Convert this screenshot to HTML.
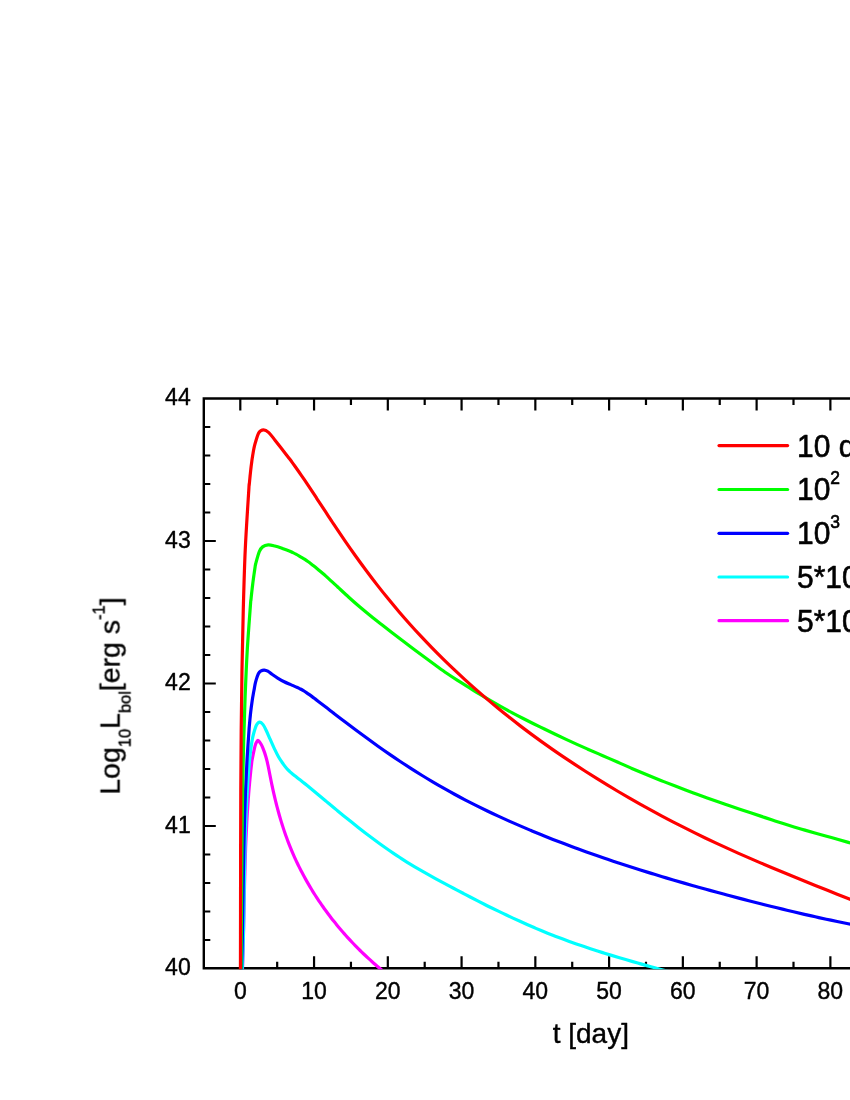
<!DOCTYPE html>
<html><head><meta charset="utf-8"><title>chart</title>
<style>
html,body{margin:0;padding:0;background:#fff;}
body{width:850px;height:1100px;position:relative;overflow:hidden;font-family:"Liberation Sans",sans-serif;}
</style></head><body>
<svg width="850" height="1100" viewBox="0 0 850 1100" style="position:absolute;left:0;top:0">
<defs><clipPath id="cp"><rect x="203.80" y="397.30" width="700" height="572.00"/></clipPath></defs>
<path d="M900 398.50 H203.80 V968.20 H900" stroke="#000" stroke-width="2.4" fill="none"/>
<path d="M240.30 398.50 v12.00 M240.30 968.20 v-12.00 M277.18 398.50 v6.50 M277.18 968.20 v-6.50 M314.06 398.50 v12.00 M314.06 968.20 v-12.00 M350.94 398.50 v6.50 M350.94 968.20 v-6.50 M387.82 398.50 v12.00 M387.82 968.20 v-12.00 M424.70 398.50 v6.50 M424.70 968.20 v-6.50 M461.58 398.50 v12.00 M461.58 968.20 v-12.00 M498.46 398.50 v6.50 M498.46 968.20 v-6.50 M535.34 398.50 v12.00 M535.34 968.20 v-12.00 M572.22 398.50 v6.50 M572.22 968.20 v-6.50 M609.10 398.50 v12.00 M609.10 968.20 v-12.00 M645.98 398.50 v6.50 M645.98 968.20 v-6.50 M682.86 398.50 v12.00 M682.86 968.20 v-12.00 M719.74 398.50 v6.50 M719.74 968.20 v-6.50 M756.62 398.50 v12.00 M756.62 968.20 v-12.00 M793.50 398.50 v6.50 M793.50 968.20 v-6.50 M830.38 398.50 v12.00 M830.38 968.20 v-12.00 M867.26 398.50 v6.50 M867.26 968.20 v-6.50 M904.14 398.50 v12.00 M904.14 968.20 v-12.00 M203.80 940.00 h6.50 M203.80 911.50 h6.50 M203.80 883.00 h6.50 M203.80 854.50 h6.50 M203.80 826.00 h12.00 M203.80 797.50 h6.50 M203.80 769.00 h6.50 M203.80 740.50 h6.50 M203.80 712.00 h6.50 M203.80 683.50 h12.00 M203.80 655.00 h6.50 M203.80 626.50 h6.50 M203.80 598.00 h6.50 M203.80 569.50 h6.50 M203.80 541.00 h12.00 M203.80 512.50 h6.50 M203.80 484.00 h6.50 M203.80 455.50 h6.50 M203.80 427.00 h6.50" stroke="#000" stroke-width="2.2" fill="none"/>
<g clip-path="url(#cp)" fill="none" stroke-width="3.2" stroke-linejoin="round">
<path d="M242.40 972.00 C242.51 968.43 242.88 957.72 243.08 950.58 C243.28 943.43 243.44 936.29 243.60 929.15 C243.76 922.01 243.89 914.87 244.04 907.73 C244.19 900.58 244.33 893.44 244.50 886.30 C244.66 879.16 244.83 872.02 245.05 864.88 C245.26 857.73 245.49 850.59 245.78 843.45 C246.08 836.31 246.40 829.17 246.79 822.03 C247.18 814.88 247.87 804.94 248.15 800.60 C248.43 796.26 248.38 797.53 248.50 796.00 C248.62 794.47 248.74 792.93 248.86 791.40 C248.99 789.87 249.12 788.33 249.25 786.80 C249.39 785.27 249.53 783.73 249.67 782.20 C249.81 780.67 249.95 779.13 250.10 777.60 C250.25 776.07 250.41 774.53 250.56 773.00 C250.72 771.47 250.88 769.93 251.05 768.40 C251.22 766.87 251.40 765.33 251.59 763.80 C251.79 762.27 251.66 762.20 252.23 759.20 C252.81 756.20 254.28 748.75 255.06 745.80 C255.84 742.85 256.35 742.37 256.90 741.50 C257.45 740.63 257.65 740.15 258.35 740.60 C259.05 741.05 260.33 742.93 261.10 744.23 C261.88 745.52 262.42 746.97 263.00 748.37 C263.59 749.76 264.11 751.19 264.60 752.63 C265.09 754.06 265.53 755.52 265.95 756.98 C266.37 758.45 266.75 759.93 267.11 761.42 C267.47 762.91 267.80 764.42 268.12 765.92 C268.44 767.43 268.74 768.94 269.04 770.46 C269.34 771.97 269.62 773.49 269.92 775.01 C270.22 776.52 270.51 778.04 270.82 779.56 C271.12 781.07 271.43 782.58 271.74 784.09 C272.06 785.60 272.38 787.11 272.71 788.62 C273.04 790.12 273.37 791.63 273.71 793.13 C274.06 794.63 274.40 796.13 274.76 797.62 C275.12 799.12 275.48 800.61 275.85 802.11 C276.22 803.60 276.60 805.09 276.99 806.57 C277.37 808.06 277.77 809.54 278.17 811.02 C278.58 812.50 278.99 813.98 279.41 815.45 C279.83 816.92 280.26 818.39 280.70 819.86 C281.14 821.33 281.59 822.79 282.05 824.25 C282.51 825.71 282.98 827.17 283.46 828.62 C283.93 830.08 284.42 831.53 284.92 832.97 C285.42 834.42 285.93 835.86 286.46 837.30 C286.98 838.74 287.51 840.17 288.05 841.60 C288.60 843.03 289.15 844.46 289.72 845.88 C290.29 847.30 290.87 848.72 291.46 850.13 C292.05 851.55 292.65 852.96 293.27 854.36 C293.88 855.76 294.51 857.16 295.15 858.56 C295.79 859.96 296.44 861.35 297.10 862.73 C297.76 864.12 298.43 865.50 299.12 866.88 C299.80 868.25 300.50 869.62 301.20 870.99 C301.91 872.35 302.62 873.72 303.35 875.07 C304.08 876.43 304.82 877.78 305.57 879.12 C306.32 880.47 307.08 881.81 307.85 883.14 C308.62 884.47 309.40 885.80 310.19 887.13 C310.98 888.45 311.78 889.77 312.59 891.08 C313.40 892.39 314.22 893.69 315.05 894.99 C315.89 896.29 316.73 897.58 317.58 898.87 C318.43 900.16 319.29 901.44 320.16 902.71 C321.03 903.99 321.91 905.26 322.80 906.52 C323.68 907.78 324.58 909.04 325.49 910.28 C326.40 911.53 327.31 912.77 328.24 914.01 C329.16 915.25 330.10 916.47 331.04 917.69 C331.98 918.92 332.93 920.13 333.89 921.34 C334.85 922.55 335.82 923.75 336.80 924.94 C337.78 926.13 338.76 927.32 339.76 928.50 C340.75 929.68 341.75 930.85 342.76 932.01 C343.77 933.17 344.79 934.33 345.81 935.48 C346.84 936.63 347.87 937.77 348.92 938.90 C349.96 940.03 351.01 941.16 352.06 942.27 C353.12 943.39 354.18 944.50 355.25 945.60 C356.32 946.70 357.40 947.79 358.49 948.88 C359.57 949.96 360.67 951.04 361.76 952.11 C362.86 953.17 363.97 954.23 365.08 955.28 C366.20 956.34 367.32 957.38 368.44 958.41 C369.57 959.44 370.70 960.47 371.84 961.48 C372.98 962.50 374.12 963.51 375.28 964.50 C376.43 965.50 377.59 966.49 378.75 967.47 C379.91 968.45 381.08 969.42 382.26 970.38 C383.43 971.34 385.21 972.76 385.80 973.23" stroke="#ff00ff"/>
<path d="M242.19 972.00 C242.33 968.04 242.80 956.17 243.04 948.26 C243.28 940.34 243.45 932.43 243.62 924.51 C243.78 916.60 243.90 908.68 244.03 900.77 C244.16 892.85 244.27 884.94 244.41 877.02 C244.54 869.11 244.67 861.20 244.85 853.28 C245.03 845.37 245.22 837.45 245.49 829.54 C245.75 821.62 246.05 813.71 246.43 805.79 C246.82 797.88 247.51 786.77 247.80 782.05 C248.08 777.33 248.01 778.98 248.12 777.45 C248.23 775.92 248.35 774.38 248.46 772.85 C248.58 771.32 248.70 769.78 248.83 768.25 C248.96 766.72 249.09 765.18 249.23 763.65 C249.36 762.12 249.51 760.58 249.66 759.05 C249.82 757.52 249.98 755.98 250.15 754.45 C250.33 752.92 250.51 751.38 250.71 749.85 C250.91 748.32 251.12 746.78 251.35 745.25 C251.58 743.72 251.71 742.61 252.09 740.65 C252.47 738.69 252.92 736.10 253.65 733.50 C254.38 730.90 255.48 726.97 256.50 725.06 C257.52 723.15 258.67 722.13 259.76 722.05 C260.85 721.97 261.96 723.16 263.06 724.60 C264.16 726.04 265.18 728.27 266.35 730.70 C267.52 733.13 268.77 736.22 270.10 739.20 C271.43 742.18 272.93 745.62 274.35 748.60 C275.77 751.58 277.11 754.48 278.60 757.06 C280.09 759.64 281.98 762.24 283.30 764.10 C284.62 765.96 285.47 767.00 286.50 768.20 C287.53 769.40 288.50 770.33 289.50 771.29 C290.50 772.24 291.50 773.07 292.50 773.91 C293.50 774.75 294.50 775.53 295.50 776.33 C296.50 777.12 297.50 777.90 298.50 778.68 C299.50 779.46 300.50 780.23 301.50 781.01 C302.50 781.80 303.50 782.58 304.50 783.37 C305.50 784.17 306.50 784.97 307.50 785.78 C308.50 786.59 309.50 787.41 310.50 788.23 C311.50 789.06 312.50 789.89 313.50 790.72 C314.50 791.55 315.50 792.38 316.50 793.22 C317.50 794.05 318.50 794.89 319.50 795.72 C320.50 796.56 321.50 797.39 322.50 798.23 C323.50 799.06 324.50 799.90 325.50 800.73 C326.50 801.57 327.79 802.64 328.50 803.23 C329.21 803.82 328.38 803.13 329.76 804.28 C331.14 805.43 334.46 808.18 336.81 810.11 C339.15 812.05 341.50 813.98 343.85 815.89 C346.20 817.80 348.55 819.71 350.90 821.59 C353.25 823.47 355.59 825.34 357.94 827.19 C360.29 829.04 362.64 830.87 364.99 832.67 C367.34 834.48 369.69 836.26 372.03 838.02 C374.38 839.77 376.73 841.50 379.08 843.20 C381.43 844.90 383.78 846.57 386.13 848.21 C388.47 849.85 390.82 851.46 393.17 853.05 C395.52 854.64 397.87 856.19 400.22 857.73 C402.57 859.27 404.91 860.81 407.26 862.27 C409.61 863.74 411.96 865.13 414.31 866.52 C416.66 867.92 419.01 869.29 421.35 870.64 C423.70 872.00 426.05 873.33 428.40 874.66 C430.75 875.98 433.10 877.29 435.45 878.59 C437.79 879.88 440.14 881.15 442.49 882.41 C444.84 883.67 447.19 884.91 449.54 886.14 C451.89 887.38 454.23 888.60 456.58 889.84 C458.93 891.07 461.28 892.31 463.63 893.55 C465.98 894.79 468.33 896.05 470.67 897.28 C473.02 898.51 475.37 899.74 477.72 900.94 C480.07 902.15 482.42 903.34 484.77 904.52 C487.11 905.70 489.46 906.87 491.81 908.02 C494.16 909.17 496.51 910.31 498.86 911.43 C501.21 912.56 503.55 913.67 505.90 914.78 C508.25 915.89 510.60 916.99 512.95 918.08 C515.30 919.17 517.65 920.25 519.99 921.32 C522.34 922.38 524.69 923.44 527.04 924.48 C529.39 925.52 531.74 926.55 534.09 927.56 C536.43 928.57 538.78 929.56 541.13 930.54 C543.48 931.51 545.83 932.47 548.18 933.41 C550.53 934.35 552.87 935.27 555.22 936.18 C557.57 937.08 559.92 937.97 562.27 938.84 C564.62 939.71 566.97 940.57 569.31 941.41 C571.66 942.26 574.01 943.09 576.36 943.91 C578.71 944.73 581.06 945.53 583.41 946.33 C585.75 947.13 588.10 947.91 590.45 948.68 C592.80 949.46 595.15 950.22 597.50 950.97 C599.85 951.72 602.19 952.47 604.54 953.20 C606.89 953.93 609.24 954.66 611.59 955.37 C613.94 956.09 616.29 956.80 618.63 957.50 C620.98 958.20 623.33 958.89 625.68 959.58 C628.03 960.27 630.38 960.95 632.73 961.63 C635.07 962.31 637.42 962.98 639.77 963.64 C642.12 964.30 644.47 964.96 646.82 965.61 C649.17 966.26 651.51 966.91 653.86 967.55 C656.21 968.19 658.56 968.82 660.91 969.44 C663.26 970.07 665.61 970.69 667.95 971.31 C670.30 971.92 673.83 972.84 675.00 973.14" stroke="#00ffff"/>
<path d="M241.51 972.00 C241.63 966.96 242.03 951.84 242.25 941.76 C242.46 931.68 242.62 921.60 242.79 911.51 C242.96 901.43 243.10 891.35 243.27 881.27 C243.44 871.19 243.60 861.11 243.80 851.03 C244.01 840.95 244.23 830.87 244.52 820.79 C244.81 810.71 245.13 800.63 245.54 790.54 C245.96 780.46 246.42 770.38 247.00 760.30 C247.58 750.22 248.62 735.87 249.02 730.06 C249.42 724.25 249.26 726.99 249.39 725.46 C249.52 723.93 249.66 722.39 249.80 720.86 C249.94 719.33 250.09 717.79 250.25 716.26 C250.41 714.73 250.57 713.19 250.75 711.66 C250.93 710.13 251.11 708.59 251.31 707.06 C251.51 705.53 251.72 703.99 251.94 702.46 C252.16 700.93 252.40 699.39 252.64 697.86 C252.89 696.33 253.16 694.79 253.43 693.26 C253.71 691.73 253.98 690.49 254.32 688.66 C254.66 686.83 254.83 684.78 255.50 682.30 C256.17 679.82 257.40 675.72 258.35 673.80 C259.30 671.88 260.21 671.42 261.20 670.80 C262.19 670.18 263.20 669.99 264.30 670.06 C265.40 670.13 266.52 670.49 267.80 671.20 C269.08 671.91 270.36 673.16 272.00 674.30 C273.64 675.44 275.62 676.81 277.65 678.06 C279.68 679.31 282.01 680.70 284.20 681.80 C286.39 682.90 288.60 683.70 290.80 684.65 C293.00 685.60 295.80 686.78 297.40 687.50 C299.00 688.23 299.40 688.46 300.40 688.99 C301.40 689.52 302.40 690.08 303.40 690.68 C304.40 691.28 305.40 691.92 306.40 692.58 C307.40 693.25 308.40 693.95 309.40 694.66 C310.40 695.38 311.40 696.12 312.40 696.87 C313.40 697.61 314.40 698.38 315.40 699.14 C316.40 699.90 317.40 700.67 318.40 701.44 C319.40 702.20 320.40 702.97 321.40 703.74 C322.40 704.51 323.40 705.28 324.40 706.04 C325.40 706.81 326.40 707.58 327.40 708.35 C328.40 709.12 329.40 709.89 330.40 710.66 C331.40 711.43 332.75 712.46 333.40 712.96 C334.05 713.46 332.33 712.15 334.30 713.65 C336.27 715.16 341.59 719.24 345.23 722.01 C348.88 724.77 352.52 727.53 356.17 730.25 C359.81 732.97 363.45 735.67 367.10 738.33 C370.74 740.99 374.39 743.62 378.03 746.21 C381.67 748.80 385.32 751.34 388.96 753.85 C392.61 756.35 396.25 758.82 399.90 761.24 C403.54 763.66 407.18 766.04 410.83 768.38 C414.47 770.71 418.12 773.00 421.76 775.25 C425.41 777.50 429.05 779.70 432.69 781.85 C436.34 784.01 439.98 786.11 443.63 788.18 C447.27 790.24 450.91 792.26 454.56 794.24 C458.20 796.22 461.85 798.15 465.49 800.05 C469.14 801.95 472.78 803.80 476.42 805.63 C480.07 807.45 483.71 809.23 487.36 810.98 C491.00 812.74 494.65 814.45 498.29 816.14 C501.93 817.83 505.58 819.48 509.22 821.11 C512.87 822.73 516.51 824.33 520.16 825.90 C523.80 827.48 527.44 829.02 531.09 830.54 C534.73 832.06 538.38 833.56 542.02 835.04 C545.66 836.51 549.31 837.96 552.95 839.39 C556.60 840.82 560.24 842.23 563.89 843.61 C567.53 845.00 571.17 846.36 574.82 847.71 C578.46 849.05 582.11 850.38 585.75 851.69 C589.40 852.99 593.04 854.28 596.68 855.55 C600.33 856.82 603.97 858.07 607.62 859.31 C611.26 860.54 614.90 861.76 618.55 862.96 C622.19 864.17 625.84 865.35 629.48 866.53 C633.13 867.70 636.77 868.86 640.41 870.00 C644.06 871.15 647.70 872.28 651.35 873.40 C654.99 874.52 658.64 875.62 662.28 876.72 C665.92 877.81 669.57 878.89 673.21 879.96 C676.86 881.03 680.50 882.09 684.14 883.14 C687.79 884.19 691.43 885.23 695.08 886.25 C698.72 887.28 702.37 888.30 706.01 889.30 C709.65 890.31 713.30 891.31 716.94 892.30 C720.59 893.29 724.23 894.26 727.88 895.23 C731.52 896.20 735.16 897.17 738.81 898.12 C742.45 899.07 746.10 900.02 749.74 900.96 C753.39 901.90 757.03 902.83 760.67 903.75 C764.32 904.67 767.96 905.58 771.61 906.48 C775.25 907.39 778.89 908.28 782.54 909.16 C786.18 910.04 789.83 910.92 793.47 911.78 C797.12 912.64 800.76 913.49 804.40 914.33 C808.05 915.16 811.69 915.99 815.34 916.80 C818.98 917.62 822.63 918.42 826.27 919.21 C829.91 919.99 833.56 920.77 837.20 921.53 C840.85 922.29 844.49 923.03 848.13 923.76 C851.78 924.49 855.42 925.21 859.07 925.91 C862.71 926.61 868.18 927.62 870.00 927.96" stroke="#0000ff"/>
<path d="M241.03 972.00 C241.08 964.35 241.26 941.41 241.36 926.11 C241.47 910.82 241.55 895.52 241.66 880.23 C241.77 864.93 241.88 849.63 242.05 834.34 C242.22 819.04 242.40 803.75 242.67 788.45 C242.93 773.15 243.24 757.86 243.65 742.56 C244.05 727.27 244.52 711.97 245.12 696.67 C245.72 681.38 246.33 666.08 247.22 650.79 C248.11 635.49 249.84 613.31 250.46 604.90 C251.07 596.49 250.75 601.83 250.90 600.30 C251.06 598.77 251.21 597.23 251.38 595.70 C251.54 594.17 251.71 592.63 251.88 591.10 C252.06 589.57 252.24 588.03 252.42 586.50 C252.61 584.97 252.80 583.43 252.99 581.90 C253.19 580.37 253.39 578.83 253.60 577.30 C253.81 575.77 254.03 574.23 254.25 572.70 C254.48 571.17 254.70 569.63 254.95 568.10 C255.20 566.57 255.04 566.25 255.76 563.50 C256.49 560.75 258.16 554.37 259.30 551.60 C260.44 548.83 261.12 548.02 262.60 546.90 C264.08 545.78 266.17 545.05 268.20 544.90 C270.23 544.75 272.43 545.42 274.80 546.00 C277.17 546.58 279.88 547.53 282.40 548.40 C284.92 549.27 288.15 550.50 289.90 551.20 C291.65 551.90 291.90 552.13 292.90 552.62 C293.90 553.12 294.90 553.62 295.90 554.15 C296.90 554.68 297.90 555.22 298.90 555.79 C299.90 556.36 300.90 556.94 301.90 557.55 C302.90 558.17 303.90 558.80 304.90 559.46 C305.90 560.12 306.90 560.81 307.90 561.51 C308.90 562.22 309.90 562.95 310.90 563.70 C311.90 564.45 312.90 565.22 313.90 566.01 C314.90 566.80 315.90 567.60 316.90 568.42 C317.90 569.24 318.90 570.08 319.90 570.93 C320.90 571.78 321.90 572.64 322.90 573.51 C323.90 574.38 324.90 575.27 325.90 576.16 C326.90 577.05 327.90 577.95 328.90 578.86 C329.90 579.76 330.90 580.68 331.90 581.60 C332.90 582.52 333.90 583.44 334.90 584.37 C335.90 585.29 337.35 586.64 337.90 587.15 C338.45 587.67 336.34 585.71 338.20 587.43 C340.06 589.15 345.44 594.20 349.05 597.47 C352.67 600.74 356.29 603.95 359.91 607.05 C363.52 610.14 367.14 613.10 370.76 616.02 C374.38 618.95 377.99 621.76 381.61 624.59 C385.23 627.42 388.85 630.22 392.47 633.00 C396.08 635.78 399.70 638.53 403.32 641.27 C406.94 644.02 410.55 646.75 414.17 649.47 C417.79 652.18 421.41 654.88 425.02 657.56 C428.64 660.23 432.26 662.90 435.88 665.52 C439.50 668.13 443.11 670.78 446.73 673.27 C450.35 675.76 453.97 678.14 457.58 680.46 C461.20 682.78 464.82 684.93 468.44 687.18 C472.05 689.43 475.67 691.74 479.29 693.95 C482.91 696.17 486.53 698.36 490.14 700.48 C493.76 702.59 497.38 704.65 501.00 706.66 C504.61 708.68 508.23 710.63 511.85 712.57 C515.47 714.50 519.08 716.40 522.70 718.25 C526.32 720.11 529.94 721.91 533.56 723.70 C537.17 725.49 540.79 727.23 544.41 728.99 C548.03 730.75 551.64 732.52 555.26 734.25 C558.88 735.98 562.50 737.69 566.11 739.37 C569.73 741.05 573.35 742.70 576.97 744.34 C580.59 745.97 584.20 747.58 587.82 749.17 C591.44 750.77 595.06 752.33 598.67 753.90 C602.29 755.47 605.91 757.03 609.53 758.61 C613.14 760.19 616.76 761.80 620.38 763.39 C624.00 764.98 627.61 766.58 631.23 768.15 C634.85 769.72 638.47 771.29 642.09 772.81 C645.70 774.33 649.32 775.81 652.94 777.28 C656.56 778.75 660.17 780.19 663.79 781.62 C667.41 783.05 671.03 784.46 674.64 785.85 C678.26 787.25 681.88 788.62 685.50 789.99 C689.12 791.35 692.73 792.69 696.35 794.02 C699.97 795.35 703.59 796.66 707.20 797.96 C710.82 799.25 714.44 800.53 718.06 801.79 C721.67 803.05 725.29 804.30 728.91 805.54 C732.53 806.77 736.15 807.99 739.76 809.21 C743.38 810.42 747.00 811.62 750.62 812.82 C754.23 814.02 757.85 815.19 761.47 816.39 C765.09 817.59 768.70 818.81 772.32 820.02 C775.94 821.22 779.56 822.44 783.18 823.60 C786.79 824.75 790.41 825.87 794.03 826.95 C797.65 828.04 801.26 829.08 804.88 830.12 C808.50 831.16 812.12 832.17 815.73 833.19 C819.35 834.21 822.97 835.21 826.59 836.23 C830.21 837.25 833.82 838.27 837.44 839.30 C841.06 840.32 844.68 841.34 848.29 842.36 C851.91 843.39 855.53 844.41 859.15 845.44 C862.76 846.47 868.19 848.01 870.00 848.52" stroke="#00ff00"/>
<path d="M240.43 972.00 C240.45 961.95 240.51 931.82 240.54 911.73 C240.58 891.63 240.58 871.54 240.62 851.45 C240.66 831.36 240.69 811.27 240.78 791.17 C240.88 771.08 240.99 750.99 241.19 730.90 C241.38 710.81 241.62 690.72 241.97 670.62 C242.31 650.53 242.72 630.44 243.26 610.35 C243.81 590.26 244.30 570.17 245.23 550.08 C246.15 529.98 248.14 500.61 248.81 489.80 C249.47 478.99 249.07 486.73 249.21 485.20 C249.35 483.67 249.49 482.13 249.64 480.60 C249.79 479.07 249.94 477.53 250.09 476.00 C250.25 474.47 250.41 472.93 250.58 471.40 C250.75 469.87 250.92 468.33 251.11 466.80 C251.29 465.27 251.49 463.73 251.70 462.20 C251.90 460.67 252.12 459.13 252.35 457.60 C252.59 456.07 252.83 454.53 253.10 453.00 C253.36 451.47 253.55 450.15 253.94 448.40 C254.32 446.65 254.57 445.13 255.40 442.50 C256.23 439.87 257.55 434.72 258.90 432.60 C260.25 430.48 261.85 429.80 263.50 429.80 C265.15 429.80 266.85 430.83 268.80 432.60 C270.75 434.37 272.25 436.68 275.20 440.40 C278.15 444.12 284.12 451.83 286.50 454.90 C288.88 457.96 288.50 457.48 289.50 458.80 C290.50 460.12 291.50 461.47 292.50 462.83 C293.50 464.20 294.50 465.58 295.50 466.98 C296.50 468.38 297.50 469.80 298.50 471.23 C299.50 472.66 300.50 474.11 301.50 475.56 C302.50 477.02 303.50 478.49 304.50 479.97 C305.50 481.45 306.50 482.94 307.50 484.43 C308.50 485.93 309.50 487.43 310.50 488.93 C311.50 490.44 312.50 491.95 313.50 493.47 C314.50 494.98 315.50 496.50 316.50 498.02 C317.50 499.54 318.50 501.07 319.50 502.59 C320.50 504.12 321.50 505.64 322.50 507.17 C323.50 508.69 324.50 510.22 325.50 511.74 C326.50 513.27 327.50 514.79 328.50 516.31 C329.50 517.83 330.67 519.60 331.50 520.86 C332.33 522.12 331.34 520.67 333.50 523.87 C335.66 527.08 340.80 534.79 344.45 540.09 C348.10 545.40 351.75 550.61 355.40 555.72 C359.05 560.83 362.70 565.83 366.35 570.73 C370.00 575.63 373.65 580.43 377.30 585.11 C380.95 589.80 384.60 594.38 388.24 598.86 C391.89 603.33 395.54 607.70 399.19 611.97 C402.84 616.24 406.49 620.41 410.14 624.49 C413.79 628.58 417.44 632.56 421.09 636.46 C424.74 640.37 428.39 644.18 432.04 647.92 C435.69 651.66 439.34 655.32 442.99 658.91 C446.64 662.50 450.29 666.01 453.94 669.46 C457.59 672.91 461.24 676.29 464.89 679.62 C468.54 682.95 472.19 686.21 475.84 689.42 C479.49 692.63 483.14 695.78 486.79 698.88 C490.44 701.98 494.09 705.02 497.73 708.01 C501.38 711.00 505.03 713.94 508.68 716.83 C512.33 719.73 515.98 722.57 519.63 725.36 C523.28 728.16 526.93 730.91 530.58 733.62 C534.23 736.32 537.88 738.99 541.53 741.61 C545.18 744.23 548.83 746.81 552.48 749.35 C556.13 751.90 559.78 754.40 563.43 756.87 C567.08 759.34 570.73 761.77 574.38 764.17 C578.03 766.57 581.68 768.94 585.33 771.28 C588.98 773.61 592.63 775.92 596.28 778.20 C599.93 780.47 603.57 782.72 607.22 784.93 C610.87 787.15 614.52 789.34 618.17 791.50 C621.82 793.66 625.47 795.79 629.12 797.89 C632.77 799.99 636.42 802.07 640.07 804.12 C643.72 806.16 647.37 808.18 651.02 810.18 C654.67 812.17 658.32 814.14 661.97 816.08 C665.62 818.02 669.27 819.94 672.92 821.83 C676.57 823.72 680.22 825.59 683.87 827.43 C687.52 829.27 691.17 831.09 694.82 832.89 C698.47 834.68 702.12 836.45 705.77 838.20 C709.41 839.95 713.06 841.67 716.71 843.37 C720.36 845.08 724.01 846.76 727.66 848.42 C731.31 850.08 734.96 851.72 738.61 853.34 C742.26 854.97 745.91 856.57 749.56 858.16 C753.21 859.75 756.86 861.32 760.51 862.88 C764.16 864.44 767.81 865.99 771.46 867.52 C775.11 869.05 778.76 870.57 782.41 872.08 C786.06 873.59 789.71 875.09 793.36 876.58 C797.01 878.07 800.66 879.56 804.31 881.03 C807.96 882.51 811.61 883.98 815.26 885.44 C818.90 886.91 822.55 888.37 826.20 889.83 C829.85 891.28 833.50 892.74 837.15 894.19 C840.80 895.65 844.45 897.10 848.10 898.55 C851.75 900.01 855.40 901.46 859.05 902.92 C862.70 904.38 868.18 906.57 870.00 907.30" stroke="#ff0000"/>
</g>
<path d="M719 445.60 H787.6" stroke="#ff0000" stroke-width="3.2" stroke-linecap="round"/>
<path d="M719 489.50 H787.6" stroke="#00ff00" stroke-width="3.2" stroke-linecap="round"/>
<path d="M719 533.30 H787.6" stroke="#0000ff" stroke-width="3.2" stroke-linecap="round"/>
<path d="M719 577.00 H787.6" stroke="#00ffff" stroke-width="3.2" stroke-linecap="round"/>
<path d="M719 620.70 H787.6" stroke="#ff00ff" stroke-width="3.2" stroke-linecap="round"/>
<g font-family="Liberation Sans, sans-serif" fill="#000" stroke="#000" stroke-width="0.4" stroke-linejoin="round" opacity="0.999">
<text transform="translate(797,456.50) scale(1,1.055)" font-size="30" stroke-width="0.6">10 d</text>
<text transform="translate(797,500.40) scale(1,1.055)" font-size="30" stroke-width="0.6">10<tspan font-size="17.5" dy="-15.2">2</tspan></text>
<text transform="translate(797,544.20) scale(1,1.055)" font-size="30" stroke-width="0.6">10<tspan font-size="17.5" dy="-15.2">3</tspan></text>
<text transform="translate(797,587.90) scale(1,1.055)" font-size="30" stroke-width="0.6">5*10<tspan font-size="17.5" dy="-15.2">3</tspan></text>
<text transform="translate(797,631.60) scale(1,1.055)" font-size="30" stroke-width="0.6">5*10<tspan font-size="17.5" dy="-15.2">4</tspan></text>
<text x="240.30" y="999.0" font-size="23" text-anchor="middle">0</text>
<text x="314.06" y="999.0" font-size="23" text-anchor="middle">10</text>
<text x="387.82" y="999.0" font-size="23" text-anchor="middle">20</text>
<text x="461.58" y="999.0" font-size="23" text-anchor="middle">30</text>
<text x="535.34" y="999.0" font-size="23" text-anchor="middle">40</text>
<text x="609.10" y="999.0" font-size="23" text-anchor="middle">50</text>
<text x="682.86" y="999.0" font-size="23" text-anchor="middle">60</text>
<text x="756.62" y="999.0" font-size="23" text-anchor="middle">70</text>
<text x="830.38" y="999.0" font-size="23" text-anchor="middle">80</text>
<text x="190.7" y="975.30" font-size="23" text-anchor="end">40</text>
<text x="190.7" y="832.80" font-size="23" text-anchor="end">41</text>
<text x="190.7" y="690.30" font-size="23" text-anchor="end">42</text>
<text x="190.7" y="547.80" font-size="23" text-anchor="end">43</text>
<text x="190.7" y="405.30" font-size="23" text-anchor="end">44</text>
<text x="552.7" y="1043.2" font-size="28">t [day]</text>
<text transform="translate(119.6,794.7) rotate(-90)" font-size="28.5">Log<tspan font-size="16.4" dy="11">10</tspan><tspan dy="-11">L</tspan><tspan font-size="16.4" dy="11">bol</tspan><tspan dy="-11">[erg s</tspan><tspan font-size="16.4" dy="-15.5">-1</tspan><tspan dy="15.5">]</tspan></text>
</g>
</svg>
</body></html>
